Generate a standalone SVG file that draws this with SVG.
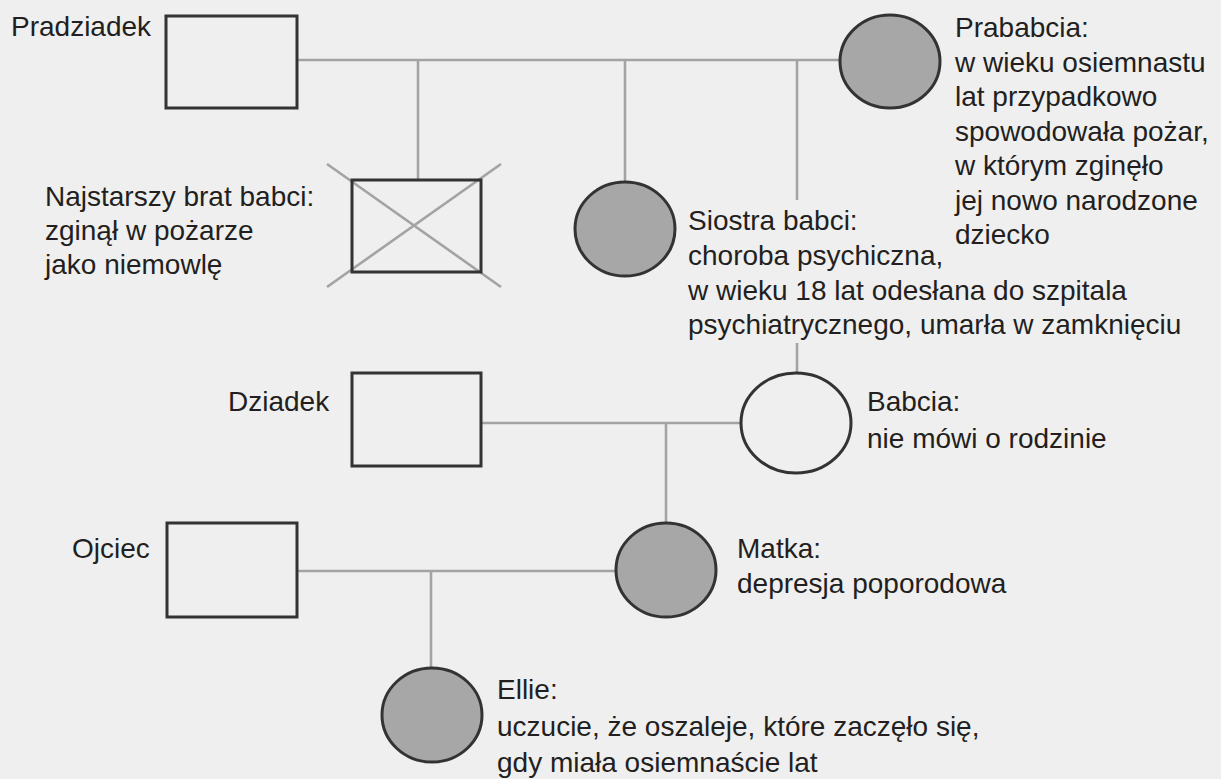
<svg xmlns="http://www.w3.org/2000/svg" width="1221" height="779" viewBox="0 0 1221 779">
<style>
.node{stroke:#333333;stroke-width:3;fill:#efefef}
.aff{fill:#a7a7a7}
.conn{stroke:#a3a3a3;stroke-width:2.6;fill:none}
.lbl{font-family:"Liberation Sans",Arial,sans-serif;font-size:28px;fill:#231f20}
</style>
<rect x="0" y="0" width="1221" height="779" fill="#efefef"/>
<g id="connectors" class="conn">
<line x1="297" y1="60" x2="840" y2="60"/>
<line x1="418" y1="60" x2="418" y2="179"/>
<line x1="625" y1="60" x2="625" y2="182"/>
<line x1="797" y1="60" x2="797" y2="200"/>
<line x1="797" y1="343" x2="797" y2="373"/>
<line x1="481" y1="423" x2="741" y2="423"/>
<line x1="666" y1="423" x2="666" y2="523"/>
<line x1="297" y1="571" x2="616" y2="571"/>
<line x1="431" y1="571" x2="431" y2="668"/>
</g>
<g id="pradziadek">
<rect class="node" x="166" y="16" width="131" height="92"/>
<text class="lbl" x="11" y="36">Pradziadek</text>
</g>
<g id="prababcia">
<ellipse class="node aff" cx="890" cy="61.5" rx="50" ry="46.5"/>
<text class="lbl" x="955"><tspan x="955" y="37">Prababcia:</tspan><tspan x="955" y="72">w wieku osiemnastu</tspan><tspan x="955" y="106">lat przypadkowo</tspan><tspan x="955" y="141">spowodowała pożar,</tspan><tspan x="955" y="175">w którym zginęło</tspan><tspan x="955" y="210">jej nowo narodzone</tspan><tspan x="955" y="244">dziecko</tspan></text>
</g>
<g id="najstarszy-brat">
<line class="conn" x1="327" y1="164" x2="501" y2="287"/>
<line class="conn" x1="501" y1="164" x2="327" y2="287"/>
<rect class="node" x="352" y="180" width="129" height="92" fill="none" style="fill:none"/>
<text class="lbl"><tspan x="45" y="206">Najstarszy brat babci:</tspan><tspan x="45" y="240">zginął w pożarze</tspan><tspan x="45" y="274">jako niemowlę</tspan></text>
</g>
<g id="siostra-babci">
<ellipse class="node aff" cx="625" cy="229" rx="50" ry="47"/>
<text class="lbl"><tspan x="688" y="230">Siostra babci:</tspan><tspan x="688" y="265">choroba psychiczna,</tspan><tspan x="688" y="300">w wieku 18 lat odesłana do szpitala</tspan><tspan x="688" y="334">psychiatrycznego, umarła w zamknięciu</tspan></text>
</g>
<g id="dziadek">
<rect class="node" x="352" y="373" width="129" height="93"/>
<text class="lbl" x="228" y="411">Dziadek</text>
</g>
<g id="babcia">
<ellipse class="node" cx="796" cy="423" rx="55" ry="50"/>
<text class="lbl"><tspan x="867" y="411">Babcia:</tspan><tspan x="867" y="448">nie mówi o rodzinie</tspan></text>
</g>
<g id="ojciec">
<rect class="node" x="167" y="523" width="130" height="94"/>
<text class="lbl" x="72" y="558">Ojciec</text>
</g>
<g id="matka">
<ellipse class="node aff" cx="666" cy="570" rx="50" ry="47"/>
<text class="lbl"><tspan x="737" y="558">Matka:</tspan><tspan x="737" y="593">depresja poporodowa</tspan></text>
</g>
<g id="ellie">
<ellipse class="node aff" cx="432" cy="715" rx="50" ry="47"/>
<text class="lbl"><tspan x="497" y="699">Ellie:</tspan><tspan x="497" y="736">uczucie, że oszaleje, które zaczęło się,</tspan><tspan x="497" y="772">gdy miała osiemnaście lat</tspan></text>
</g>
</svg>
